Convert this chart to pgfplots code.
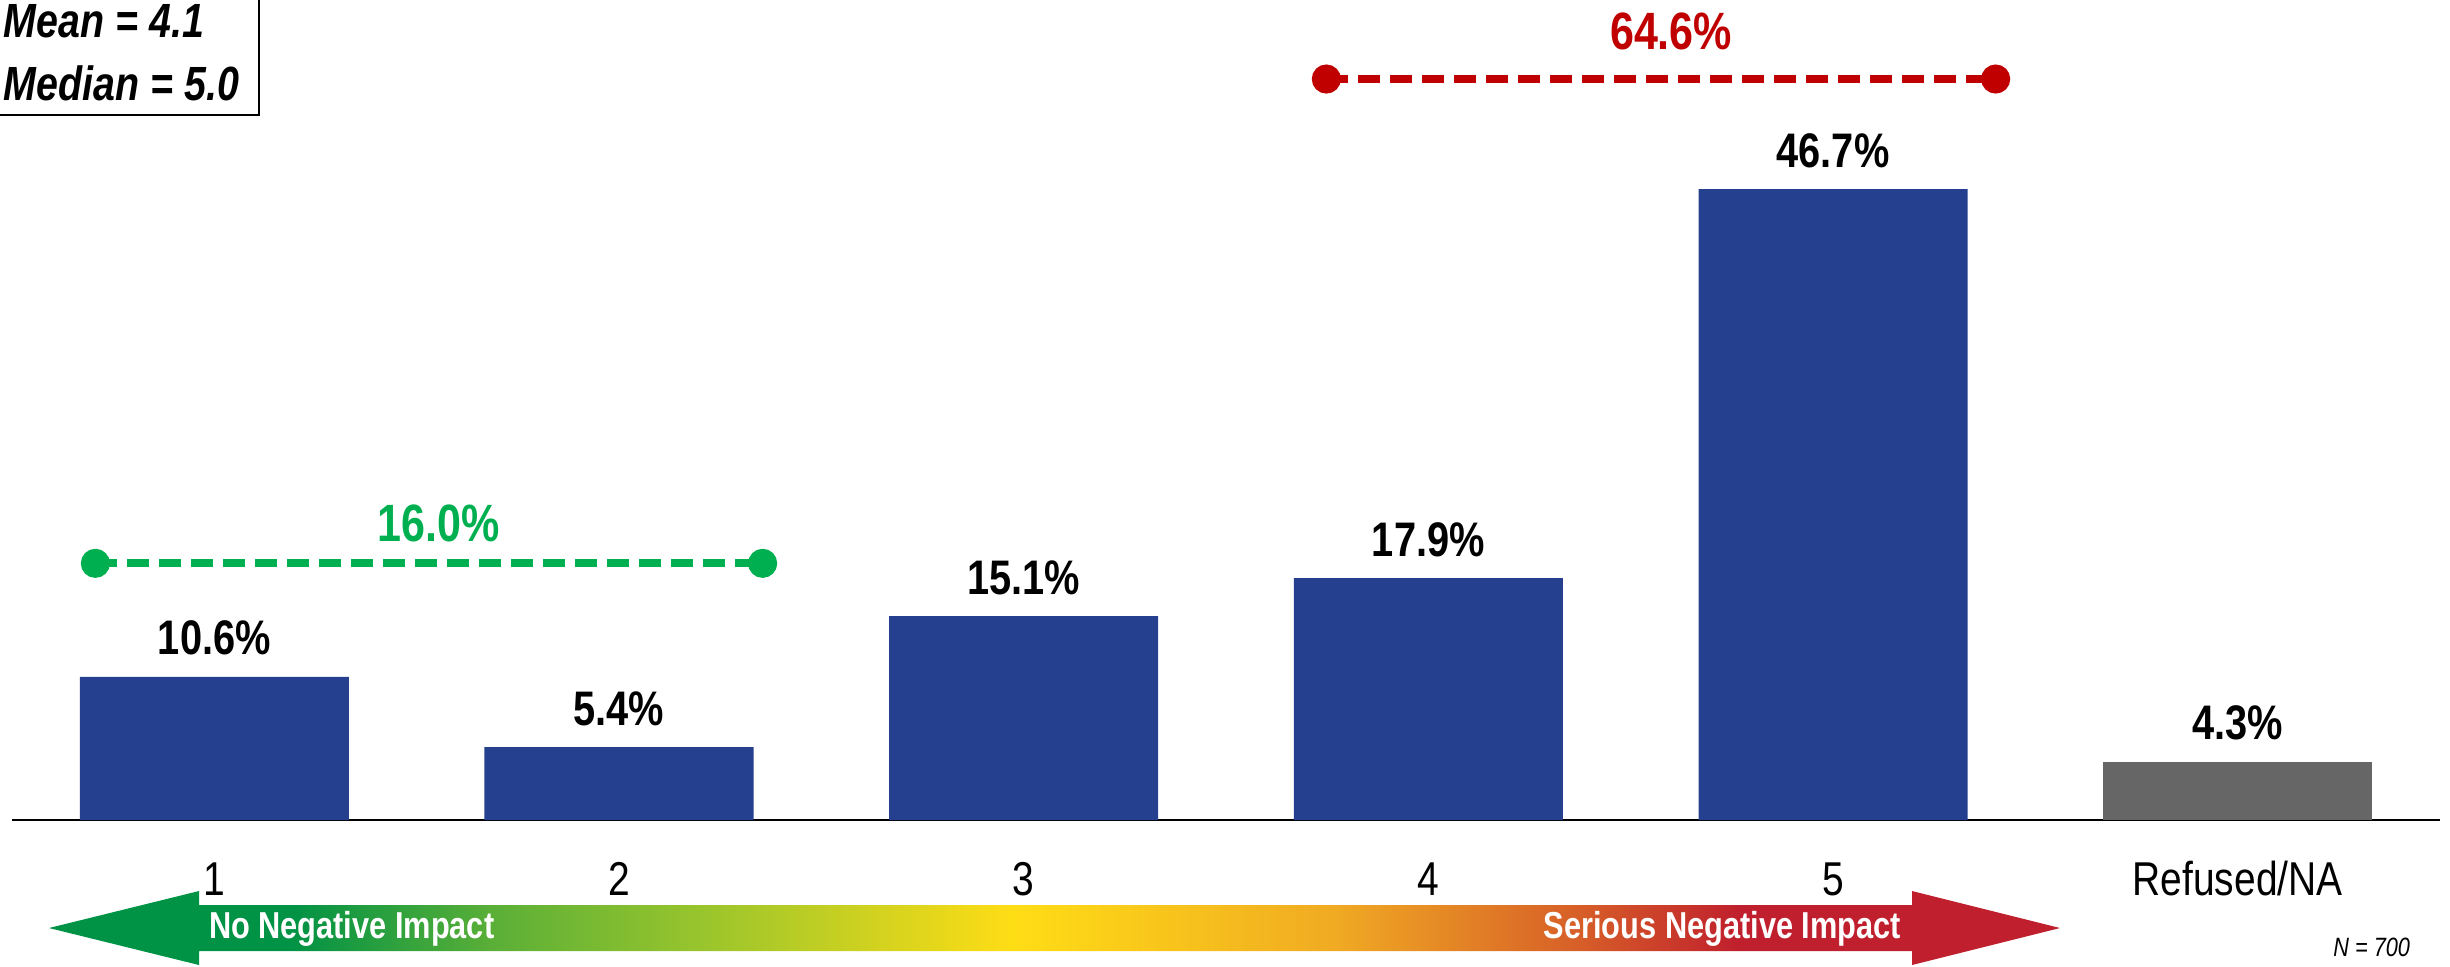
\documentclass[border=0pt]{standalone}
\usepackage{fontspec}
\setmainfont{Liberation Sans}[FakeStretch=0.82]
\usepackage{pgfplots}
\pgfplotsset{compat=1.18}

\definecolor{barblue}{RGB}{37,64,143}
\definecolor{bargray}{RGB}{102,102,102}
\definecolor{redline}{RGB}{192,0,0}
\definecolor{greenline}{RGB}{0,176,80}
\definecolor{c0}{RGB}{0,146,69}
\definecolor{c1}{RGB}{90,175,55}
\definecolor{c2}{RGB}{150,196,45}
\definecolor{c3}{RGB}{255,221,21}
\definecolor{c4}{RGB}{240,170,35}
\definecolor{c6}{RGB}{215,95,40}
\definecolor{c7}{RGB}{192,32,45}
\pgfdeclarehorizontalshading{impact}{100bp}{color(0bp)=(c0); color(25bp)=(c0); color(31bp)=(c0);
  color(36bp)=(c1); color(41bp)=(c2); color(49bp)=(c3); color(57bp)=(c4);
  color(63bp)=(c6); color(67bp)=(c7); color(75bp)=(c7); color(100bp)=(c7)}

\pgfplotsset{
  barlbl/.style={ybar, bar width=53.8pt, bar shift=0pt, draw=none,
    nodes near coords={\pgfmathprintnumber[fixed,fixed zerofill,precision=1]{\pgfplotspointmeta}\%},
    every node near coord/.append style={anchor=base, yshift=4.4pt, text=black,
      font=\fontsize{9.7}{11}\selectfont\bfseries}},
  bracket/.style={line width=1.6pt, dash pattern=on 4.4pt off 2pt,
    mark=*, mark size=2.1pt, mark options={solid}}
}

\begin{document}
\begin{tikzpicture}[x=1pt,y=1pt]
\path[use as bounding box] (0,0) rectangle (490,-193.2);
\begin{axis}[
    at={(2.4pt,-164pt)}, anchor=south west,
    scale only axis, width=485.6pt, height=164pt,
    xmin=-0.5, xmax=5.5, ymin=0, ymax=60.7,
    clip=false,
    hide y axis,
    axis x line*=bottom,
    axis line style={line width=0.5pt, black},
    xtick={0,...,5},
    xticklabels={1,2,3,4,5,Refused/NA},
    major tick length=0pt,
    xticklabel style={anchor=base, yshift=-15pt, font=\fontsize{9.5}{11}\selectfont},
    /pgf/number format/assume math mode=true]

  \addplot[barlbl, fill=barblue] coordinates {(0,10.6) (1,5.4) (2,15.1) (3,17.9) (4,46.7)};
  \addplot[barlbl, fill=bargray] coordinates {(5,4.3)};

  % top-2 and bottom-2 boxes
  \addplot[bracket, color=greenline] coordinates {(-0.294,19.0) (1.355,19.0)};
  \addplot[bracket, color=redline] coordinates {(2.748,54.85) (4.402,54.85)};

  \node[anchor=base, text=greenline, font=\fontsize{10.5}{12}\selectfont\bfseries]
    at (axis cs:0.555,20.65) {16.0\%};
  \node[anchor=base, text=redline, font=\fontsize{10.5}{12}\selectfont\bfseries]
    at (axis cs:3.6,57.07) {64.6\%};
\end{axis}

% mean / median box
\draw[line width=0.5pt] (-1,1) rectangle (51.8,-23);
\node[anchor=base west, inner sep=0pt, font=\fontsize{9.6}{11}\selectfont\bfseries\itshape]
  at (0.6,-7.4) {Mean = 4.1};
\node[anchor=base west, inner sep=0pt, font=\fontsize{9.6}{11}\selectfont\bfseries\itshape]
  at (0.6,-20) {Median = 5.0};

% scale arrow
\shade[shading=impact] (9.8,-185.6) -- (39.8,-178.2) -- (39.8,-181) -- (382.4,-181)
  -- (382.4,-178.2) -- (412,-185.6) -- (382.4,-193) -- (382.4,-190.2)
  -- (39.8,-190.2) -- (39.8,-193) -- cycle;
\node[anchor=base west, inner sep=0pt, text=white, font=\fontsize{7.5}{9}\selectfont\bfseries]
  at (41.6,-187.6) {No Negative Impact};
\node[anchor=base east, inner sep=0pt, text=white, font=\fontsize{7.5}{9}\selectfont\bfseries]
  at (380.4,-187.6) {Serious Negative Impact};

\node[anchor=base east, inner sep=0pt, font=\fontsize{5.3}{6}\selectfont\itshape]
  at (482.2,-191.2) {N = 700};
\end{tikzpicture}
\end{document}
